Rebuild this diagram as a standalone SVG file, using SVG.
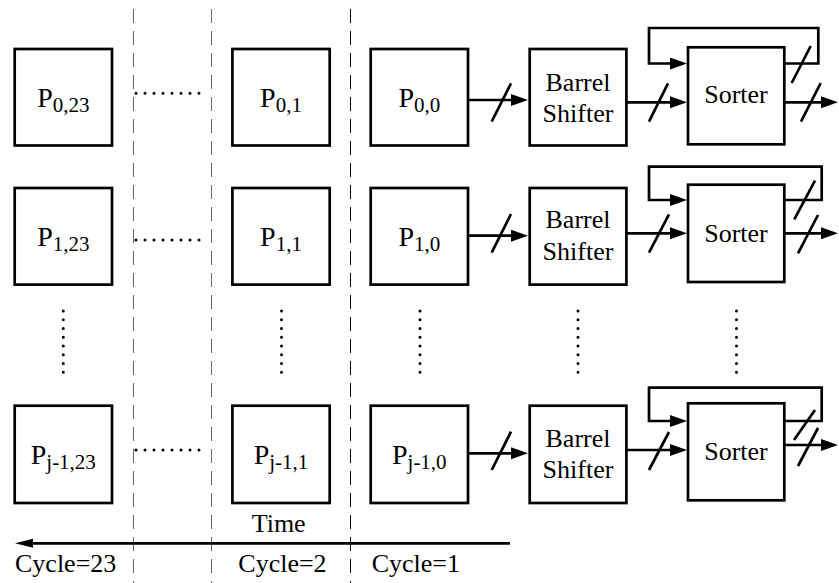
<svg xmlns="http://www.w3.org/2000/svg" width="839" height="583" viewBox="0 0 839 583">
<style>
.box{fill:#fff;stroke:#000;stroke-width:2.7}
text{fill:#000}
.t{font-size:26px}
.p{font-size:28px}
.sub{font-size:21px}
.ln{fill:none;stroke:#000;stroke-width:2.7}
.sl{stroke:#000;stroke-width:2.7}
.dash{stroke:#666;stroke-width:1;stroke-dasharray:14 8}
.dots{stroke:#000;stroke-width:3;stroke-linecap:round;stroke-dasharray:0 8.75}
.hdots{stroke:#000;stroke-width:3;stroke-linecap:round;stroke-dasharray:0 9}
</style>
<defs>
<marker id="ah" markerUnits="userSpaceOnUse" markerWidth="18" markerHeight="14" refX="0" refY="6" orient="auto">
<path d="M0,0 L17,6 L0,12 Z" fill="#000"/>
</marker>
<marker id="ahT" markerUnits="userSpaceOnUse" markerWidth="19" markerHeight="10" refX="0" refY="4.5" orient="auto">
<path d="M0,0 L18,4.5 L0,9 Z" fill="#000"/>
</marker>
</defs>

<g id="gridlines">
<line class="dash" x1="133.5" y1="9" x2="133.5" y2="583"/>
<line class="dash" x1="211.5" y1="9" x2="211.5" y2="583"/>
<line class="dash" x1="350.5" y1="9" x2="350.5" y2="583" style="stroke:#000"/>
</g>

<g font-family="Liberation Serif, Times New Roman, DejaVu Serif, serif">
<g id="row0">
<g id="p0_23"><rect class="box" x="14.7" y="49" width="97.3" height="96.5"/><text class="p" x="63.3" y="106.5" text-anchor="middle">P<tspan class="sub" dy="5">0,23</tspan></text></g>
<g id="p0_1"><rect class="box" x="232.4" y="49" width="97.3" height="96.5"/><text class="p" x="281" y="106.5" text-anchor="middle">P<tspan class="sub" dy="5">0,1</tspan></text></g>
<g id="p0_0"><rect class="box" x="370.7" y="49" width="97.3" height="96.5"/><text class="p" x="419.3" y="106.5" text-anchor="middle">P<tspan class="sub" dy="5">0,0</tspan></text></g>
<g id="bs0"><rect class="box" x="529.7" y="49" width="96.7" height="96.5"/><text class="t" x="578" y="90.7" text-anchor="middle">Barrel</text><text class="t" x="578" y="121.5" text-anchor="middle">Shifter</text></g>
<g id="sorter0"><rect class="box" x="688" y="47.3" width="96.3" height="97"/><text class="t" x="736" y="103" text-anchor="middle">Sorter</text></g>
</g>

<g id="row1">
<g id="p1_23"><rect class="box" x="14.7" y="188" width="97.3" height="96.6"/><text class="p" x="63.3" y="245.8" text-anchor="middle">P<tspan class="sub" dy="5">1,23</tspan></text></g>
<g id="p1_1"><rect class="box" x="232.4" y="188" width="97.3" height="96.6"/><text class="p" x="281" y="245.8" text-anchor="middle">P<tspan class="sub" dy="5">1,1</tspan></text></g>
<g id="p1_0"><rect class="box" x="370.7" y="188" width="97.3" height="96.6"/><text class="p" x="419.3" y="245.8" text-anchor="middle">P<tspan class="sub" dy="5">1,0</tspan></text></g>
<g id="bs1"><rect class="box" x="529.7" y="188" width="96.7" height="96.6"/><text class="t" x="578" y="228.3" text-anchor="middle">Barrel</text><text class="t" x="578" y="260" text-anchor="middle">Shifter</text></g>
<g id="sorter1"><rect class="box" x="688" y="184.7" width="96.3" height="97.3"/><text class="t" x="736" y="241.7" text-anchor="middle">Sorter</text></g>
</g>

<g id="row2">
<g id="pj_23"><rect class="box" x="14.7" y="405.7" width="97.3" height="97.3"/><text class="p" x="63.3" y="463.8" text-anchor="middle">P<tspan class="sub" dy="5">j-1,23</tspan></text></g>
<g id="pj_1"><rect class="box" x="232.4" y="405.7" width="97.3" height="97.3"/><text class="p" x="281" y="463.8" text-anchor="middle">P<tspan class="sub" dy="5">j-1,1</tspan></text></g>
<g id="pj_0"><rect class="box" x="370.7" y="405.7" width="97.3" height="97.3"/><text class="p" x="419.3" y="463.8" text-anchor="middle">P<tspan class="sub" dy="5">j-1,0</tspan></text></g>
<g id="bsj"><rect class="box" x="529.7" y="405.7" width="96.7" height="97.3"/><text class="t" x="578" y="446.7" text-anchor="middle">Barrel</text><text class="t" x="578" y="478" text-anchor="middle">Shifter</text></g>
<g id="sorterj"><rect class="box" x="688" y="403.3" width="96.3" height="97"/><text class="t" x="736" y="460" text-anchor="middle">Sorter</text></g>
</g>

<g id="labels">
<text class="t" x="251.7" y="531.7">Time</text>
<text class="t" x="15" y="571.7">Cycle=23</text>
<text class="t" x="238.3" y="571.7">Cycle=2</text>
<text class="t" x="371.7" y="571.7">Cycle=1</text>
</g>
</g>

<g id="ellipses">
<line class="hdots" x1="136" y1="93.3" x2="208" y2="93.3"/>
<line class="hdots" x1="136" y1="240" x2="208" y2="240"/>
<line class="hdots" x1="136" y1="450" x2="208" y2="450"/>
<line class="dots" x1="63.3" y1="311" x2="63.3" y2="381"/>
<line class="dots" x1="281.5" y1="311" x2="281.5" y2="381"/>
<line class="dots" x1="420" y1="311" x2="420" y2="381"/>
<line class="dots" x1="578" y1="311" x2="578" y2="381"/>
<line class="dots" x1="736.5" y1="311" x2="736.5" y2="381"/>
</g>

<g id="connectors">
<line class="ln" x1="468" y1="100" x2="511" y2="100" marker-end="url(#ah)"/>
<line class="sl" x1="491.7" y1="121.7" x2="511" y2="83.3"/>
<line class="ln" x1="626.4" y1="102.3" x2="670" y2="102.3" marker-end="url(#ah)"/>
<line class="sl" x1="649" y1="121.7" x2="668" y2="83.3"/>
<line class="ln" x1="784.3" y1="102.3" x2="821" y2="102.3" marker-end="url(#ah)"/>
<line class="sl" x1="801" y1="121.7" x2="820.7" y2="83"/>
<polyline class="ln" points="784.3,63.5 818.3,63.5 818.3,28 649,28 649,63.5 670,63.5" marker-end="url(#ah)"/>
<line class="sl" x1="791.7" y1="83" x2="810.7" y2="46"/>
<line class="ln" x1="468" y1="235.7" x2="511" y2="235.7" marker-end="url(#ah)"/>
<line class="sl" x1="491.7" y1="252.7" x2="511" y2="214"/>
<line class="ln" x1="626.4" y1="233.3" x2="670" y2="233.3" marker-end="url(#ah)"/>
<line class="sl" x1="649" y1="252.7" x2="669" y2="214.3"/>
<line class="ln" x1="784.3" y1="233.3" x2="821" y2="233.3" marker-end="url(#ah)"/>
<line class="sl" x1="798" y1="253.3" x2="818" y2="215"/>
<polyline class="ln" points="784.3,200 821.7,200 821.7,166.7 649,166.7 649,200 670,200" marker-end="url(#ah)"/>
<line class="sl" x1="794.3" y1="219.3" x2="815" y2="180.7"/>
<line class="ln" x1="468" y1="453.3" x2="511" y2="453.3" marker-end="url(#ah)"/>
<line class="sl" x1="491.7" y1="470" x2="511" y2="431.7"/>
<line class="ln" x1="626.4" y1="450" x2="670" y2="450" marker-end="url(#ah)"/>
<line class="sl" x1="649" y1="470" x2="669" y2="432"/>
<line class="ln" x1="784.3" y1="445" x2="821" y2="445" marker-end="url(#ah)"/>
<line class="sl" x1="798" y1="466" x2="818" y2="428"/>
<polyline class="ln" points="784.3,421 821.7,421 821.7,387.7 649,387.7 649,421 670,421" marker-end="url(#ah)"/>
<line class="sl" x1="794" y1="440" x2="815" y2="410"/>
<line class="ln" x1="510" y1="543.3" x2="33" y2="543.3" marker-end="url(#ahT)"/>
</g>
</svg>
